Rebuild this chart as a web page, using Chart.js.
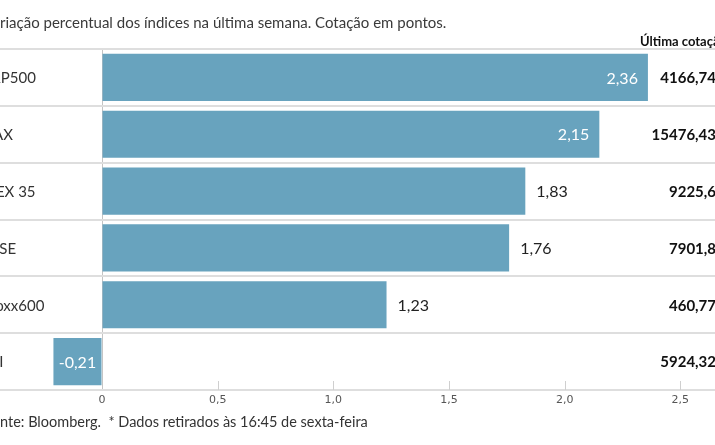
<!DOCTYPE html>
<html>
<head>
<meta charset="utf-8">
<script src="https://cdn.jsdelivr.net/npm/chart.js"></script>
<style>
  body { margin: 0; background: #fff; }
  #wrap { width: 715px; height: 445px; position: relative; overflow: hidden; }
</style>
</head>
<body>
<div id="wrap"><canvas id="chart"></canvas></div>
<script>
// dados
var indices = ['S&P500', 'DAX', 'IBEX 35', 'FTSE', 'Stoxx600', 'PSI'];
var variacao = [2.36, 2.15, 1.83, 1.76, 1.23, -0.21];
var cotacao = [4166.74, 15476.43, 9225.6, 7901.8, 460.77, 5924.32];
var xTicks = [0, 0.5, 1, 1.5, 2, 2.5];

var titulo = 'Variação percentual dos índices na última semana. Cotação em pontos.';
var cabecalho = 'Última cotação*';
var fonte = 'Fonte: Bloomberg.  * Dados retirados às 16:45 de sexta-feira';

var fam = 'Lato, "Open Sans", sans-serif';
var corBarra = '#68a3be';
var corLinha = '#dedede';

function virgula(v) { return String(v).replace('.', ','); }

var textos = {
    id: 'textos',
    afterDraw: function(chart) {
        var c = chart.ctx;
        var area = chart.chartArea;
        var meta = chart.getDatasetMeta(0);
        c.save();
        c.textBaseline = 'middle';

        // titulo (cortado a esquerda como no original)
        c.font = '15px ' + fam;
        c.fillStyle = '#3a3a3a';
        c.textAlign = 'left';
        c.fillText(titulo, -c.measureText('Va').width, 23);

        // cabecalho da coluna
        c.font = 'bold 13px ' + fam;
        c.fillStyle = '#111';
        c.fillText(cabecalho, 640, 42);

        // fonte
        c.font = '14.5px ' + fam;
        c.fillStyle = '#333';
        c.fillText(fonte, -c.measureText('Fo').width, 422);

        meta.data.forEach(function(bar, i) {
            var v = variacao[i];
            // nomes dos indices
            c.font = '15px ' + fam;
            c.fillStyle = '#333';
            c.textAlign = 'left';
            c.fillText(indices[i], -18, bar.y + 1);

            // valores
            var txt = v.toFixed(2).replace('.', ',');
            c.font = '16px ' + fam;
            if (v < 0) {
                c.fillStyle = '#fff';
                c.textAlign = 'center';
                c.fillText(txt, (bar.x + bar.base) / 2, bar.y + 1);
            } else if (v >= 2) {
                c.fillStyle = '#fff';
                c.textAlign = 'right';
                c.fillText(txt, bar.x - 10, bar.y + 1);
            } else {
                c.fillStyle = '#222';
                c.textAlign = 'left';
                c.fillText(txt, bar.x + 11, bar.y + 1);
            }

            // ultima cotacao
            c.font = 'bold 15px ' + fam;
            c.fillStyle = '#111';
            c.textAlign = 'right';
            c.fillText(virgula(cotacao[i]), 716, bar.y + 1);
        });

        // tracos do eixo x (para cima)
        var sx = chart.scales.x;
        c.strokeStyle = '#cfcfcf';
        c.lineWidth = 1;
        xTicks.forEach(function(t) {
            if (t === 0) return;
            var px = Math.round(sx.getPixelForValue(t)) + 0.5;
            c.beginPath();
            c.moveTo(px, area.bottom - 9);
            c.lineTo(px, area.bottom);
            c.stroke();
        });
        c.restore();
    }
};

new Chart(document.getElementById('chart'), {
    type: 'bar',
    data: {
        labels: indices,
        datasets: [{
            data: variacao,
            backgroundColor: corBarra,
            borderWidth: 0,
            barPercentage: 0.83,
            categoryPercentage: 1
        }]
    },
    options: {
        indexAxis: 'y',
        responsive: true,
        maintainAspectRatio: false,
        devicePixelRatio: 1,
        animation: false,
        layout: { padding: { top: 49, left: 0, right: 0, bottom: 0 } },
        plugins: {
            legend: { display: false },
            tooltip: { enabled: false }
        },
        scales: {
            x: {
                min: -0.441,
                max: 2.65,
                afterBuildTicks: function(s) {
                    s.ticks = xTicks.map(function(v) { return { value: v }; });
                },
                afterFit: function(s) { s.height = 55; },
                ticks: {
                    padding: 4,
                    color: '#555',
                    font: { family: '"DejaVu Sans", Verdana, sans-serif', size: 11 },
                    callback: function(v) { return v === 0 ? '0' : v.toFixed(1).replace('.', ','); }
                },
                grid: {
                    drawTicks: false,
                    lineWidth: 1,
                    color: function(ctx) { return ctx.tick && ctx.tick.value === 0 ? '#c4c4c4' : 'rgba(0,0,0,0)'; }
                },
                border: { display: true, color: corLinha, width: 2 }
            },
            y: {
                afterFit: function(s) { s.width = 0; },
                ticks: { display: false },
                grid: {
                    offset: true,
                    drawTicks: false,
                    color: corLinha,
                    lineWidth: 2
                },
                border: { display: false }
            }
        }
    },
    plugins: [textos]
});
</script>
</body>
</html>
